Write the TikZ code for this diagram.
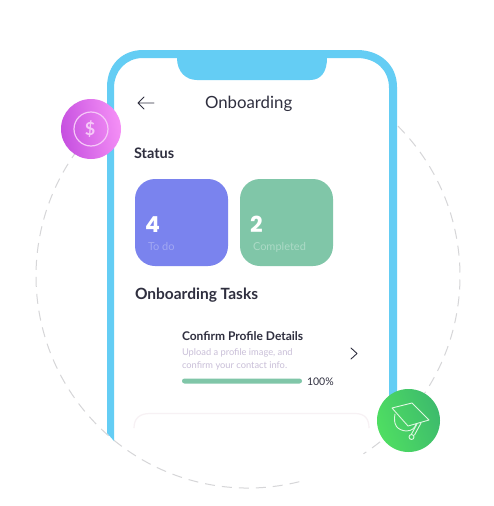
\documentclass[tikz,border=0pt]{standalone}
\usepackage{fontspec}
\setmainfont{Lato}
\newfontfamily\heavy{Poppins}
\definecolor{frame}{HTML}{64CDF4}
\definecolor{ink}{HTML}{2F2F3F}
\definecolor{violet}{HTML}{7A83EE}
\definecolor{mint}{HTML}{80C6A8}
\definecolor{subtle}{HTML}{C9BFD8}
\definecolor{dashgray}{HTML}{D6D6D8}
\definecolor{purpleL}{HTML}{C650E0}
\definecolor{purpleR}{HTML}{F590F6}
\definecolor{greenL}{HTML}{4FDE62}
\definecolor{greenR}{HTML}{3DBB6C}
\definecolor{ringc}{HTML}{F6C8F8}
\definecolor{capc}{HTML}{DDF7E0}
\definecolor{faint}{HTML}{F7F1F4}
\tikzset{
  lbl/.style={anchor=base west,inner sep=0pt,outer sep=0pt,text=ink},
  card/.style={rounded corners=20pt,draw=none},
  ring/.style={line width=1.2pt,draw=#1},
  dashring/.style={draw=dashgray,line width=1pt,dash pattern=on 10pt off 7pt},
  glyph/.style={draw=ink,line width=0.9pt,line cap=round,line join=round},
  capline/.style={draw=capc,line width=0.9pt,line join=round,line cap=round}
}
\begin{document}
\begin{tikzpicture}[x=1pt,y=-1pt]
\useasboundingbox (0,0) rectangle (493,506);
\fill[white] (0,0) rectangle (493,506);
% dashed orbit
\draw[dashring] (248,276) ++(-45:212) arc[start angle=-45,end angle=57,radius=212];
\draw[dashring] (248,276) ++(76:212) arc[start angle=76,end angle=223,radius=212];
% phone frame
\fill[frame] (107,433) -- (107,87) .. controls (107,65) and (122,50) .. (143,50)
  -- (357,50) .. controls (380,50) and (397,65) .. (397,87) -- (397,405) -- (389,405)
  -- (389,88) .. controls (389,70) and (376,58) .. (357,58)
  -- (327,58) .. controls (327,72) and (321,80) .. (310,80)
  -- (197,80) .. controls (186,80) and (177,72) .. (177,58)
  -- (143,58) .. controls (126,58) and (114,71) .. (114,88) -- (114,441) -- cycle;
% header
\node[lbl,font=\fontsize{16.8}{19}\selectfont,text=ink] (title) at (205,108.5) {Onboarding};
\coordinate (arrowtail) at (154,103);
\coordinate (arrowtip) at (138,103);
\draw[glyph] (arrowtail) -- (arrowtip) (144,97) -- (arrowtip) -- (144,109);
\node[lbl,font=\fontsize{14.5}{16}\bfseries\selectfont] (status) at (134,158) {Status};
% cards
\fill[violet,card] (135,179) rectangle (228,266);
\fill[mint,card] (240,179) rectangle (333,266);
\node[lbl,font=\fontsize{22}{24}\bfseries\heavy,text=white] (four) at (145,232) {4};
\node[lbl,font=\fontsize{11}{13}\selectfont,text=white!30!violet] (todo) at (148,250) {To do};
\node[lbl,font=\fontsize{22}{24}\bfseries\heavy,text=white] (two) at (250,232) {2};
\node[lbl,font=\fontsize{11}{13}\selectfont,text=white!35!mint] (done) at (253,250) {Completed};
\node[lbl,font=\fontsize{15.5}{17}\bfseries\selectfont] (tasks) at (135,299) {Onboarding Tasks};
% task
\node[lbl,font=\fontsize{12}{14}\bfseries\selectfont] (confirm) at (182,340) {Confirm Profile Details};
\node[lbl,font=\fontsize{9.3}{11}\selectfont,text=subtle] (up) at (182,355) {Upload a profile image, and};
\node[lbl,font=\fontsize{9.3}{11}\selectfont,text=subtle] (co) at (182,368) {confirm your contact info.};
\fill[mint,rounded corners=2.5pt] (182,378.5) rectangle (302,383.5);
\node[lbl,font=\fontsize{10.5}{12}\selectfont] (pct) at (307,385.5) {100\%};
\draw[glyph] (351,348) -- (357,353.5) -- (351,359);
% faint next card
\draw[draw=faint,line width=1.2pt] (134,428) .. controls (134,418) and (140,413.5) .. (150,413.5)
  -- (355,413.5) .. controls (365,413.5) and (369,419) .. (369,428);
% purple badge
\shade[left color=purpleL,right color=purpleR,shading angle=100]
  (91,129) circle[radius=30];
\draw[ring=ringc] (91,129) circle[radius=17];
\node[font=\fontsize{18}{20}\bfseries\selectfont,text=ringc,inner sep=0pt] (dollar) at (90,129.5) {\$};
% green badge
\shade[left color=greenL,right color=greenR,shading angle=110]
  (408.5,420.5) circle[radius=31.5];
\draw[capline] (392,408) -- (412,403) -- (429,420) -- (408,426) -- cycle;
\draw[capline] (395,414) .. controls (393,425) and (397,430) .. (406,431) .. controls (412,431) and (415,428) .. (416,424);
\draw[capline] (421,423) -- (414.5,435);
\draw[capline] (417,424) -- (411.5,434);
\draw[capline] (411.5,437) circle[radius=2.5];
\end{tikzpicture}
\end{document}
